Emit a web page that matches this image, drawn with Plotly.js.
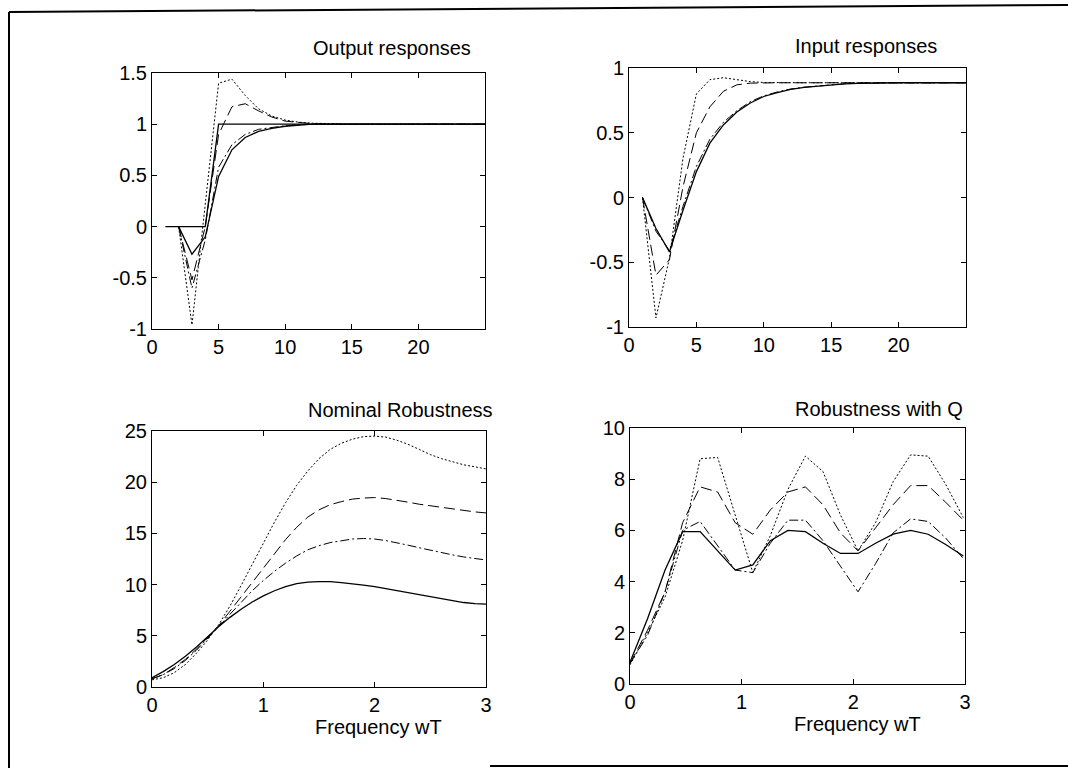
<!DOCTYPE html>
<html>
<head>
<meta charset="utf-8">
<script src="https://cdn.plot.ly/plotly-3.0.1.min.js"></script>
<style>html,body{margin:0;padding:0;background:#fff;}#chart{width:1068px;height:768px;}</style>
</head>
<body>
<div id="chart"></div>
<script>
// ---------- Output responses ----------
const tRef = [1,2,3,4,5,6,7,8,9,10,11,12,13,14,15,16,17,18,19,20,21,22,23,24,25];
const refStep = [0,0,0,0,1,1,1,1,1,1,1,1,1,1,1,1,1,1,1,1,1,1,1,1,1];
const tOut = [2,3,4,5,6,7,8,9,10,11,12,13,14,15,16,17,18,19,20,21,22,23,24,25];
const outSolid   = [0,-0.27,-0.10,0.49,0.75,0.87,0.93,0.96,0.98,0.99,1.0,1,1,1,1,1,1,1,1,1,1,1,1,1];
const outDashDot = [0,-0.60,-0.13,0.58,0.80,0.90,0.95,0.97,0.985,0.995,1.0,1,1,1,1,1,1,1,1,1,1,1,1,1];
const outDashed  = [0,-0.52,0.00,0.90,1.17,1.20,1.13,1.07,1.03,1.015,1.005,1,1,1,1,1,1,1,1,1,1,1,1,1];
const outDotted  = [0,-0.96,0.22,1.40,1.44,1.28,1.15,1.08,1.04,1.02,1.01,1.005,1,1,1,1,1,1,1,1,1,1,1,1];
const outYTicks = [-1,-0.5,0,0.5,1,1.5];
const outYText  = ['-1','-0.5','0','0.5','1','1.5'];

// ---------- Input responses ----------
const tIn = [1,2,3,4,5,6,7,8,9,10,11,12,13,14,15,16,17,18,19,20,21,22,23,24,25];
const inSolid   = [0,-0.24,-0.42,-0.10,0.20,0.42,0.56,0.66,0.73,0.78,0.81,0.835,0.85,0.86,0.87,0.877,0.881,0.884,0.886,0.886,0.886,0.886,0.886,0.886,0.886];
const inDashDot = [0,-0.26,-0.41,-0.07,0.24,0.45,0.58,0.67,0.74,0.785,0.815,0.838,0.852,0.862,0.871,0.878,0.882,0.885,0.886,0.886,0.886,0.886,0.886,0.886,0.886];
const inDashed  = [0,-0.60,-0.48,0.08,0.50,0.70,0.82,0.87,0.883,0.886,0.886,0.886,0.886,0.886,0.886,0.886,0.886,0.886,0.886,0.886,0.886,0.886,0.886,0.886,0.886];
const inDotted  = [0,-0.93,-0.47,0.30,0.80,0.91,0.925,0.91,0.895,0.888,0.886,0.886,0.886,0.886,0.886,0.886,0.886,0.886,0.886,0.886,0.886,0.886,0.886,0.886,0.886];
const inYTicks = [-1,-0.5,0,0.5,1];
const inYText  = ['-1','-0.5','0','0.5','1'];
const timeTicks = [0,5,10,15,20];

// ---------- Nominal Robustness ----------
const wNom = [0,0.1,0.2,0.3,0.4,0.5,0.6,0.7,0.8,0.9,1.0,1.1,1.2,1.3,1.4,1.5,1.6,1.7,1.8,1.9,2.0,2.1,2.2,2.3,2.4,2.5,2.6,2.7,2.8,2.9,3.0];
const nomSolid   = [0.9,1.5,2.2,3.0,3.9,4.9,5.9,6.8,7.6,8.3,8.9,9.4,9.8,10.1,10.25,10.3,10.3,10.2,10.1,9.95,9.8,9.6,9.4,9.2,9.0,8.8,8.6,8.4,8.25,8.15,8.1];
const nomDashDot = [0.8,1.2,1.8,2.6,3.6,4.7,5.9,7.1,8.3,9.4,10.4,11.3,12.1,12.8,13.4,13.8,14.1,14.3,14.45,14.5,14.45,14.3,14.1,13.85,13.6,13.35,13.1,12.9,12.7,12.55,12.4];
const nomDashed  = [0.8,1.2,1.9,2.7,3.7,4.8,6.0,7.4,8.8,10.2,11.6,12.9,14.4,15.6,16.6,17.3,17.8,18.1,18.35,18.45,18.5,18.4,18.25,18.05,17.85,17.7,17.5,17.35,17.2,17.1,17.0];
const nomDotted  = [0.7,0.9,1.4,2.2,3.3,4.6,6.1,7.9,9.9,12.0,14.1,16.1,18.0,19.7,21.1,22.3,23.2,23.8,24.2,24.45,24.5,24.4,24.1,23.7,23.2,22.7,22.3,22.0,21.7,21.5,21.3];

// ---------- Robustness with Q ----------
const wQ = [0,0.157,0.314,0.471,0.628,0.785,0.942,1.100,1.257,1.414,1.571,1.728,1.885,2.042,2.199,2.356,2.513,2.670,2.827,2.985];
const qSolid   = [0.85,2.55,4.45,5.95,5.95,5.2,4.45,4.65,5.6,6.0,5.95,5.5,5.1,5.1,5.5,5.85,6.0,5.85,5.45,5.0];
const qDashDot = [0.8,1.9,3.6,6.0,6.35,5.4,4.45,4.35,5.5,6.4,6.4,5.6,4.6,3.6,4.7,5.9,6.45,6.35,5.7,4.9];
const qDashed  = [0.8,2.1,3.6,6.3,7.7,7.5,6.3,5.85,6.8,7.5,7.7,7.0,5.9,5.2,6.1,7.0,7.75,7.75,7.1,6.4];
const qDotted  = [0.75,2.0,3.4,5.6,8.8,8.85,6.6,4.35,5.8,7.6,8.9,8.3,6.6,5.2,6.3,7.9,8.95,8.9,7.8,6.5];

const W = 1068, H = 768;
const px = v => v / W;
const py = v => 1 - v / H;

const STY = {
  solid:   {color:'#000', width:1.3, dash:'solid'},
  dashdot: {color:'#000', width:1, dash:'9px,3px,2px,3px'},
  dashed:  {color:'#000', width:1, dash:'11px,5px'},
  dotted:  {color:'#000', width:1, dash:'2px,2px'}
};
function tr(x, y, st, xa, ya) {
  return {x:x, y:y, type:'scatter', mode:'lines', line:Object.assign({}, STY[st]), xaxis:xa, yaxis:ya, hoverinfo:'skip'};
}

const traces = [
  tr(tRef, refStep, 'solid', 'x', 'y'),
  tr(tOut, outSolid, 'solid', 'x', 'y'),
  tr(tOut, outDashDot, 'dashdot', 'x', 'y'),
  tr(tOut, outDashed, 'dashed', 'x', 'y'),
  tr(tOut, outDotted, 'dotted', 'x', 'y'),
  tr(tIn, inSolid, 'solid', 'x2', 'y2'),
  tr(tIn, inDashDot, 'dashdot', 'x2', 'y2'),
  tr(tIn, inDashed, 'dashed', 'x2', 'y2'),
  tr(tIn, inDotted, 'dotted', 'x2', 'y2'),
  tr(wNom, nomSolid, 'solid', 'x3', 'y3'),
  tr(wNom, nomDashDot, 'dashdot', 'x3', 'y3'),
  tr(wNom, nomDashed, 'dashed', 'x3', 'y3'),
  tr(wNom, nomDotted, 'dotted', 'x3', 'y3'),
  tr(wQ, qSolid, 'solid', 'x4', 'y4'),
  tr(wQ, qDashDot, 'dashdot', 'x4', 'y4'),
  tr(wQ, qDashed, 'dashed', 'x4', 'y4'),
  tr(wQ, qDotted, 'dotted', 'x4', 'y4')
];

const ax = {
  showline:true, linecolor:'#000', linewidth:1, mirror:'ticks',
  ticks:'inside', ticklen:5, tickcolor:'#000', tickwidth:1,
  showgrid:false, zeroline:false, fixedrange:true,
  tickfont:{family:'Liberation Sans, Arial, sans-serif', size:20, color:'#000'}
};
function axis(extra) { return Object.assign({}, ax, extra); }

const layout = {
  width:W, height:H,
  margin:{l:0, r:0, t:0, b:0},
  paper_bgcolor:'#fff', plot_bgcolor:'#fff',
  showlegend:false,
  font:{family:'Liberation Sans, Arial, sans-serif', size:20, color:'#000'},
  xaxis:  axis({domain:[px(152), px(485)], range:[0,25], tickvals:timeTicks, anchor:'y'}),
  yaxis:  axis({domain:[py(329), py(73)], range:[-1,1.5], tickvals:outYTicks, ticktext:outYText, anchor:'x'}),
  xaxis2: axis({domain:[px(629), px(966)], range:[0,25], tickvals:timeTicks, anchor:'y2'}),
  yaxis2: axis({domain:[py(327), py(68)], range:[-1,1], tickvals:inYTicks, ticktext:inYText, anchor:'x2'}),
  xaxis3: axis({domain:[px(152), px(486)], range:[0,3], tickvals:[0,1,2,3], anchor:'y3'}),
  yaxis3: axis({domain:[py(687), py(431)], range:[0,25], tickvals:[0,5,10,15,20,25], anchor:'x3'}),
  xaxis4: axis({domain:[px(630), px(965)], range:[0,3], tickvals:[0,1,2,3], anchor:'y4'}),
  yaxis4: axis({domain:[py(684), py(428)], range:[0,10], tickvals:[0,2,4,6,8,10], anchor:'x4'}),
  annotations: [
    {text:'Output responses', x:px(392), y:py(48), xref:'paper', yref:'paper', showarrow:false, xanchor:'center', yanchor:'middle', font:{size:20}},
    {text:'Input responses', x:px(866), y:py(46), xref:'paper', yref:'paper', showarrow:false, xanchor:'center', yanchor:'middle', font:{size:20}},
    {text:'Nominal Robustness', x:px(400), y:py(410), xref:'paper', yref:'paper', showarrow:false, xanchor:'center', yanchor:'middle', font:{size:20}},
    {text:'Robustness with Q', x:px(879), y:py(409), xref:'paper', yref:'paper', showarrow:false, xanchor:'center', yanchor:'middle', font:{size:20}},
    {text:'Frequency wT', x:px(378), y:py(727), xref:'paper', yref:'paper', showarrow:false, xanchor:'center', yanchor:'middle', font:{size:20}},
    {text:'Frequency wT', x:px(857), y:py(724), xref:'paper', yref:'paper', showarrow:false, xanchor:'center', yanchor:'middle', font:{size:20}}
  ],
  shapes: [
    {type:'line', xref:'paper', yref:'paper', x0:px(9), y0:py(12), x1:px(1068), y1:py(5), line:{color:'#000', width:2}},
    {type:'line', xref:'paper', yref:'paper', x0:px(9), y0:py(12), x1:px(9), y1:py(768), line:{color:'#000', width:2}},
    {type:'line', xref:'paper', yref:'paper', x0:px(490), y0:py(766), x1:px(1068), y1:py(766), line:{color:'#000', width:2}}
  ]
};

Plotly.newPlot('chart', traces, layout, {displayModeBar:false, staticPlot:true});
</script>
</body>
</html>
